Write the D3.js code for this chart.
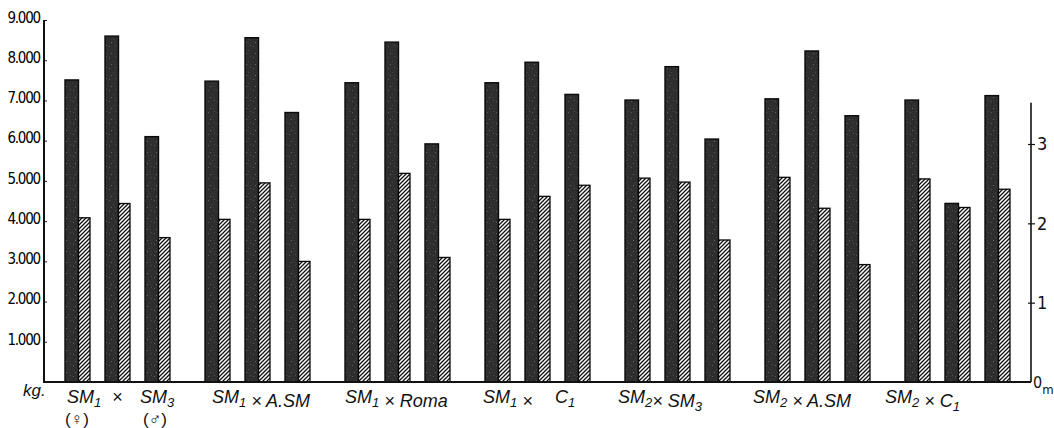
<!DOCTYPE html>
<html>
<head>
<meta charset="utf-8">
<script src="https://cdn.jsdelivr.net/npm/d3@7"></script>
<style>
  html, body { margin: 0; padding: 0; background: #fff; }
  svg { display: block; }
</style>
</head>
<body>
<svg id="chart" width="1054" height="428"></svg>
<script>
// ---------------- data ----------------
const groups = ["SM1xSM3", "SM1xASM", "SM1xRoma", "SM1xC1", "SM2xSM3", "SM2xASM", "SM2xC1"];
const members = ["mother", "hybrid", "father"];
// dark bars: yield in kg (left axis)
const yieldKg = [
  7510, 8600, 6100,
  7480, 8560, 6700,
  7440, 8450, 5920,
  7440, 7950, 7150,
  7010, 7840, 6040,
  7040, 8230, 6620,
  7010, 4440, 7120
];
// hatched bars: height in m (right axis)
const heightM = [
  2.07, 2.25, 1.82,
  2.05, 2.51, 1.52,
  2.05, 2.63, 1.57,
  2.05, 2.34, 2.48,
  2.57, 2.52, 1.79,
  2.58, 2.19, 1.48,
  2.56, 2.20, 2.43
];
const leftTicks = [1000, 2000, 3000, 4000, 5000, 6000, 7000, 8000, 9000];
const leftTickLabels = ["1.000", "2.000", "3.000", "4.000", "5.000", "6.000", "7.000", "8.000", "9.000"];
const rightTicks = [1, 2, 3];

// ---------------- layout ----------------
const svg = d3.select("#chart");
const x0 = 44, x1 = 1031, yBase = 382;

const xGroup = d3.scaleBand().domain(groups).range([x0, x1]).paddingInner(0.25).paddingOuter(0.15);
const xMember = d3.scaleBand().domain(members).range([0, xGroup.bandwidth()]).paddingInner(0.375).paddingOuter(0);
const yLeft = d3.scaleLinear().domain([0, 9000]).range([yBase, 20]);
const yRight = d3.scaleLinear().domain([0, 3]).range([yBase, 144]);

const defs = svg.append("defs");
// speckled dark fill
const sp = defs.append("pattern").attr("id", "speck").attr("patternUnits", "userSpaceOnUse")
  .attr("width", 9).attr("height", 11);
sp.append("rect").attr("width", 9).attr("height", 11).attr("fill", "#2e2e2e");
[[1,2,"#5a5a5a"],[5,6,"#484848"],[7,1,"#505050"],[3,9,"#666"],[6,9,"#3e3e3e"],[2,5,"#262626"]].forEach(d => {
  sp.append("rect").attr("x", d[0]).attr("y", d[1]).attr("width", 1).attr("height", 1).attr("fill", d[2]);
});
// hatch
const hp = defs.append("pattern").attr("id", "hatch").attr("patternUnits", "userSpaceOnUse")
  .attr("width", 4).attr("height", 4);
hp.append("rect").attr("width", 4).attr("height", 4).attr("fill", "#fff");
hp.append("path").attr("d", "M-1,1 l2,-2 M0,4 l4,-4 M3,5 l2,-2")
  .attr("stroke", "#111").attr("stroke-width", 1.3);

// bars
const rows = [];
groups.forEach((g, gi) => members.forEach((m, mi) => {
  rows.push({ g, m, kg: yieldKg[gi * 3 + mi], h: heightM[gi * 3 + mi] });
}));
const pairW = xMember.bandwidth();
const darkW = pairW * 0.54;

const gBars = svg.append("g");
gBars.selectAll("rect.dark").data(rows).join("rect")
  .attr("class", "dark")
  .attr("x", d => xGroup(d.g) + xMember(d.m))
  .attr("y", d => yLeft(d.kg))
  .attr("width", darkW)
  .attr("height", d => yBase - yLeft(d.kg))
  .attr("fill", "url(#speck)")
  .attr("stroke", "#0a0a0a").attr("stroke-width", 1.4);

gBars.selectAll("rect.hatch").data(rows).join("rect")
  .attr("class", "hatch")
  .attr("x", d => xGroup(d.g) + xMember(d.m) + darkW)
  .attr("y", d => yRight(d.h))
  .attr("width", pairW - darkW)
  .attr("height", d => yBase - yRight(d.h))
  .attr("fill", "url(#hatch)")
  .attr("stroke", "#0a0a0a").attr("stroke-width", 1.3);

const numFont = "'DejaVu Sans Condensed', 'Liberation Sans Narrow', sans-serif";

// left axis
const axL = svg.append("g").attr("transform", `translate(${x0},0)`)
  .call(d3.axisLeft(yLeft).tickValues(leftTicks).tickFormat((d, i) => leftTickLabels[i]).tickSize(-3).tickPadding(4));
axL.select(".domain").remove();
axL.selectAll(".tick line").attr("stroke", "#222").attr("stroke-width", 1);
axL.selectAll(".tick text").attr("font-size", 15).attr("fill", "#000")
  .attr("font-family", numFont).attr("letter-spacing", -1.2).attr("dy", "0.15em");
svg.append("line").attr("x1", x0).attr("x2", x0).attr("y1", yLeft(9000)).attr("y2", yBase)
  .attr("stroke", "#111").attr("stroke-width", 2);

// right axis
const axR = svg.append("g").attr("transform", `translate(${x1},0)`)
  .call(d3.axisRight(yRight).tickValues(rightTicks).tickFormat(d3.format("d")).tickSize(4).tickPadding(2));
axR.select(".domain").remove();
axR.selectAll(".tick line").attr("x1", -3).attr("stroke", "#111").attr("stroke-width", 1.2);
axR.selectAll(".tick text").attr("font-size", 18).attr("fill", "#111").attr("font-family", numFont);
svg.append("line").attr("x1", x1).attr("x2", x1).attr("y1", yRight(3.52)).attr("y2", yBase)
  .attr("stroke", "#111").attr("stroke-width", 1.6);

// baseline
svg.append("line").attr("x1", x0 - 1).attr("x2", x1).attr("y1", yBase).attr("y2", yBase)
  .attr("stroke", "#111").attr("stroke-width", 2);

// unit labels
svg.append("text").attr("x", 23).attr("y", 396).text("kg.")
  .attr("font-family", "Liberation Sans, sans-serif").attr("font-style", "italic")
  .attr("font-size", 17).attr("fill", "#111");
const om = svg.append("text").attr("x", x1 + 2).attr("y", 388)
  .attr("font-family", numFont).attr("font-size", 16).attr("fill", "#111");
om.append("tspan").text("0");
om.append("tspan").attr("dy", 6).attr("font-size", 13).text("m");

// group labels
const labelFont = "'Liberation Sans', 'DejaVu Sans', sans-serif";
function label(x, y, parts, anchor) {
  const t = svg.append("text").attr("x", x).attr("y", y)
    .attr("font-family", labelFont).attr("font-style", "italic")
    .attr("font-size", 18).attr("fill", "#111").attr("text-anchor", anchor || "start");
  parts.forEach(p => {
    if (p.sub) {
      t.append("tspan").attr("dy", 4).attr("font-size", 13).text(p.sub);
      t.append("tspan").attr("dy", -4).text("");
    } else {
      t.append("tspan").text(p.t);
    }
  });
  return t;
}
const ly = 403;
const gx = g => xGroup(g);
// group 1
label(gx(groups[0]) + 2, ly, [{t: "SM"}, {sub: "1"}]);
label(gx(groups[0]) + 47, ly, [{t: "×"}]);
label(gx(groups[0]) + 75, ly, [{t: "SM"}, {sub: "3"}]);
label(gx(groups[0]) + 12, 425, [{t: "(♀)"}], "middle").attr("font-style", "normal").attr("font-size", 17);
label(gx(groups[0]) + 90, 425, [{t: "(♂)"}], "middle").attr("font-style", "normal").attr("font-size", 17);
// others
label(gx(groups[1]) + 7, ly, [{t: "SM"}, {sub: "1"}, {t: " × A.SM"}]);
label(gx(groups[2]) + 0, ly, [{t: "SM"}, {sub: "1"}, {t: " × Roma"}]);
label(gx(groups[3]) - 2, ly, [{t: "SM"}, {sub: "1"}, {t: " ×"}]);
label(gx(groups[3]) + 70, ly, [{t: "C"}, {sub: "1"}]);
label(gx(groups[4]) - 7, ly, [{t: "SM"}, {sub: "2"}, {t: "×  SM"}, {sub: "3"}]);
label(gx(groups[5]) - 12, ly, [{t: "SM"}, {sub: "2"}, {t: " × A.SM"}]);
label(gx(groups[6]) - 20, ly, [{t: "SM"}, {sub: "2"}, {t: " × C"}, {sub: "1"}]);
</script>
</body>
</html>
